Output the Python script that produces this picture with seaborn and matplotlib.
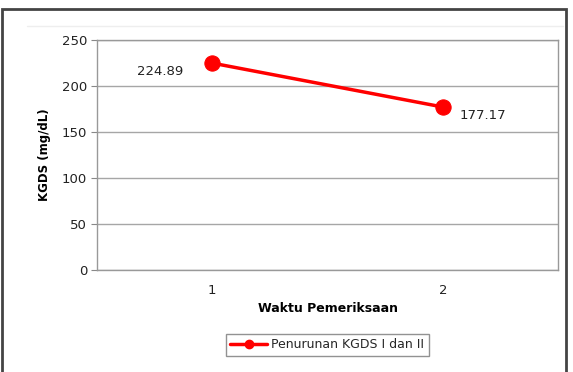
import matplotlib
matplotlib.use("Agg")
import matplotlib.pyplot as plt
import seaborn as sns
import pandas as pd
from matplotlib.patches import Rectangle
from matplotlib.lines import Line2D

categories = ["1", "2"]
values = [224.89, 177.17]
series_name = "Penurunan KGDS I dan II"
yticks = [0, 50, 100, 150, 200, 250]

df = pd.DataFrame({"pos": range(len(categories)), "val": values, "series": series_name})

sns.set_style("white")
plt.rcParams["font.family"] = ["DejaVu Sans"]

W, H = 573, 372
fig = plt.figure(figsize=(W / 100, H / 100), dpi=100)
ax = fig.add_axes([97 / W, 1 - 270 / H, (558 - 97) / W, (270 - 40) / H])

sns.lineplot(data=df, x="pos", y="val", hue="series", palette=["#ff0000"],
             marker="o", markersize=11, linewidth=2.5, markeredgecolor="#ff0000",
             ax=ax, legend=False)

ax.set_xlim(-0.5, len(categories) - 0.5)
ax.set_ylim(0, 250)
ax.set_yticks(yticks)
ax.set_yticklabels([str(t) for t in yticks], fontsize=9.5, color="#222222")
ax.yaxis.grid(True, color="#a6a6a6", linewidth=1)
ax.set_axisbelow(True)

ax.set_xticks(range(len(categories)))
ax.set_xticklabels(categories, fontsize=9.5, color="#222222")
ax.tick_params(axis="x", which="major", length=0, pad=10)
ax.set_xticks([i - 0.5 for i in range(len(categories) + 1)], minor=True)
ax.tick_params(axis="x", which="minor", length=4, color="#888888", direction="out")
ax.tick_params(axis="y", length=4, color="#888888", direction="out", left=True, pad=3)

for s in ["left", "bottom", "right", "top"]:
    ax.spines[s].set_visible(True)
    ax.spines[s].set_color("#999999")
    ax.spines[s].set_linewidth(1)

ax.set_xlabel("Waktu Pemeriksaan", fontsize=9, fontweight="bold", labelpad=4, color="black")
ax.set_ylabel("KGDS (mg/dL)", fontsize=8.5, fontweight="bold", labelpad=8, color="black")

# data labels
ax.annotate(f"{values[0]:.2f}", (0, values[0]), xytext=(-21, -6), textcoords="offset points",
            ha="right", va="center", fontsize=9.5, color="#222222")
ax.annotate(f"{values[1]:.2f}", (1, values[1]), xytext=(12, -6), textcoords="offset points",
            ha="left", va="center", fontsize=9.5, color="#222222")

handle = Line2D([0], [0], color="#ff0000", marker="o", markersize=6, linewidth=2.5)
fig.legend([handle], [series_name], loc="center", bbox_to_anchor=(327 / W, 1 - 345 / H),
           frameon=True, fancybox=False, edgecolor="#777777", fontsize=9,
           handlelength=3, borderpad=0.35, handletextpad=0.3)

# outer frame
fig.patches.append(Rectangle((2 / W, -0.02), (566 - 2) / W, 1 - 9 / H + 0.02,
                             transform=fig.transFigure, fill=False,
                             edgecolor="#444444", linewidth=2))
fig.lines.append(Line2D([27 / W, 563 / W], [1 - 26 / H, 1 - 26 / H],
                        transform=fig.transFigure, color="#eeeeee", linewidth=1))

fig.savefig("out.png", dpi=100)
